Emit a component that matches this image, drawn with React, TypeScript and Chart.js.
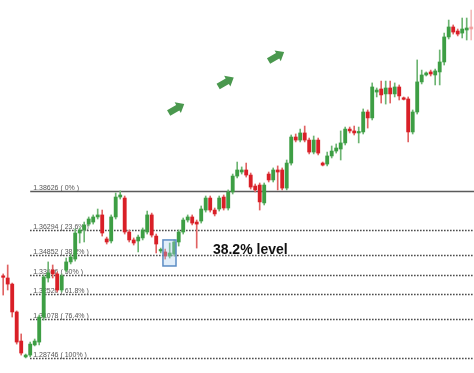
import React, { useEffect, useRef } from "react";
import { Chart, registerables } from "chart.js";

Chart.register(...registerables);

const opens = [
  1.3354, 1.3348, 1.3312, 1.3147, 1.2975, 1.2881, 1.2892, 1.2952, 1.2969, 1.3117,
  1.3348, 1.3395, 1.3372, 1.3277, 1.3395, 1.3443, 1.346, 1.3614, 1.3632, 1.3667,
  1.3679, 1.3709, 1.3721, 1.3579, 1.3567, 1.3709, 1.3827, 1.3821, 1.362, 1.3573,
  1.3567, 1.3585, 1.362, 1.3721, 1.3596, 1.3508, 1.3502, 1.3478, 1.349, 1.3561,
  1.362, 1.3691, 1.3709, 1.3679, 1.3685, 1.375, 1.3821, 1.375, 1.3756, 1.3827,
  1.3762, 1.3857, 1.3951, 1.3975, 1.3987, 1.3957, 1.3892, 1.3898, 1.3792, 1.3963,
  1.3928, 1.3987, 1.3987, 1.388, 1.4028, 1.4182, 1.4164, 1.4206, 1.4164, 1.4093,
  1.4164, 1.4028, 1.4022, 1.407, 1.4099, 1.4111, 1.4147, 1.4229, 1.4218, 1.4206,
  1.4212, 1.433, 1.4295, 1.4448, 1.4466, 1.4437, 1.4472, 1.4437, 1.4478, 1.4407,
  1.4407, 1.4212, 1.433, 1.4508, 1.4549, 1.4567, 1.4549, 1.4567, 1.4626, 1.4774,
  1.4833, 1.4809, 1.4797, 1.4815, 1.4833,
];
const highs = [
  1.3372, 1.3425, 1.3318, 1.3153, 1.3017, 1.2898, 1.2969, 1.2987, 1.3129, 1.3366,
  1.3443, 1.3425, 1.3383, 1.3372, 1.3466, 1.349, 1.3638, 1.3644, 1.3679, 1.3709,
  1.3721, 1.3756, 1.375, 1.359, 1.3721, 1.3851, 1.3863, 1.3833, 1.3632, 1.3585,
  1.3602, 1.3644, 1.3744, 1.3732, 1.3608, 1.3525, 1.3519, 1.3555, 1.3573, 1.3632,
  1.3703, 1.3721, 1.3721, 1.3691, 1.3774, 1.3833, 1.3833, 1.3762, 1.3833, 1.3839,
  1.3869, 1.3963, 1.4034, 1.4005, 1.4028, 1.3969, 1.3904, 1.391, 1.391, 1.3975,
  1.3999, 1.4011, 1.3999, 1.4046, 1.4194, 1.42, 1.4229, 1.4247, 1.4176, 1.4188,
  1.4176, 1.4034, 1.4093, 1.4129, 1.4141, 1.4218, 1.4241, 1.4241, 1.4247, 1.4241,
  1.4348, 1.4342, 1.4502, 1.4472, 1.4513, 1.4513, 1.4513, 1.4502, 1.449, 1.4419,
  1.4419, 1.4342, 1.4638, 1.4578, 1.4567, 1.4578, 1.4584, 1.4697, 1.4797, 1.4874,
  1.4845, 1.4821, 1.4886, 1.4886, 1.4933,
];
const lows = [
  1.3247, 1.3277, 1.3117, 1.2957, 1.2892, 1.2875, 1.2881, 1.2946, 1.2952, 1.3099,
  1.3324, 1.3348, 1.3265, 1.3265, 1.3383, 1.3431, 1.3448, 1.3555, 1.3561, 1.3656,
  1.3667, 1.3697, 1.3596, 1.3549, 1.3555, 1.3697, 1.3815, 1.3608, 1.3561, 1.3543,
  1.3502, 1.3573, 1.3608, 1.359, 1.3496, 1.3496, 1.346, 1.3466, 1.3478, 1.3537,
  1.3608, 1.3679, 1.3662, 1.3525, 1.3673, 1.3738, 1.3738, 1.3715, 1.3744, 1.375,
  1.375, 1.3845, 1.394, 1.3963, 1.3945, 1.3874, 1.3857, 1.375, 1.378, 1.3916,
  1.3916, 1.3869, 1.3869, 1.3869, 1.4016, 1.4153, 1.4153, 1.4153, 1.4082, 1.4082,
  1.4076, 1.4011, 1.4011, 1.4058, 1.4087, 1.4046, 1.4135, 1.4206, 1.4194, 1.4147,
  1.42, 1.4235, 1.4283, 1.4419, 1.4383, 1.4377, 1.4383, 1.4419, 1.4401, 1.4401,
  1.4153, 1.42, 1.4318, 1.4496, 1.4543, 1.4543, 1.449, 1.449, 1.4608, 1.4762,
  1.4791, 1.478, 1.4768, 1.4756, 1.4756,
];
const closes = [
  1.3352, 1.3312, 1.3147, 1.2969, 1.2904, 1.2892, 1.2957, 1.2975, 1.3117, 1.3354,
  1.3378, 1.3372, 1.3277, 1.336, 1.3443, 1.3472, 1.3614, 1.3632, 1.3662, 1.3697,
  1.3709, 1.3721, 1.3614, 1.3561, 1.3709, 1.3827, 1.3839, 1.362, 1.3573, 1.3555,
  1.359, 1.3632, 1.3721, 1.3602, 1.3549, 1.3514, 1.3478, 1.3496, 1.3561, 1.362,
  1.3691, 1.3709, 1.3673, 1.3667, 1.3756, 1.3821, 1.375, 1.3727, 1.3821, 1.3762,
  1.3857, 1.3951, 1.3987, 1.3987, 1.3957, 1.3886, 1.3869, 1.3798, 1.3898, 1.3928,
  1.3987, 1.3975, 1.388, 1.4028, 1.4182, 1.4164, 1.4206, 1.4164, 1.4093, 1.4164,
  1.4087, 1.4016, 1.407, 1.4099, 1.4117, 1.4147, 1.4229, 1.4218, 1.4206, 1.4212,
  1.433, 1.4295, 1.4478, 1.446, 1.4431, 1.4472, 1.4437, 1.4478, 1.4425, 1.4405,
  1.4212, 1.433, 1.4508, 1.4549, 1.4561, 1.4555, 1.4573, 1.4626, 1.4774, 1.4833,
  1.4803, 1.4791, 1.4821, 1.4827, 1.4821,
];

// Fibonacci retracement levels
const fibLevels = [1.38626, 1.36294, 1.34852, 1.33686, 1.3252, 1.31078, 1.28746];
const fibPercents = ["0%", "23.6%", "38.2%", "50%", "61.8%", "76.4%", "100%"];
const fibStartIndex = 6;

// Annotations (data units: candle index, price)
const arrowX = [38.5, 49.5, 60.7];
const arrowY = [1.4351, 1.4508, 1.4658];
const boxX = [35.5, 38.4];
const boxY = [1.3419, 1.3573];
const noteText = "38.2% level";
const noteX = 46.6;
const noteY = 1.3492;

const GREEN = "#3d9e44";
const RED = "#d91f27";
const GREEN_WICK = "#6cb471";
const RED_WICK = "#e06262";

export default function App() {
  const ref = useRef<HTMLCanvasElement | null>(null);

  useEffect(() => {
    if (!ref.current) return;
    const n = opens.length;
    const last = n - 1;
    const isUp = (i: number) => closes[i] >= opens[i];
    const bodyColors = opens.map((_, i) =>
      i === last ? "rgba(240,150,150,0.8)" : isUp(i) ? GREEN : RED
    );
    const wickColors = opens.map((_, i) =>
      i === last ? "rgba(240,170,170,0.8)" : isUp(i) ? GREEN_WICK : RED_WICK
    );

    const overlay = {
      id: "overlay",
      beforeDatasetsDraw(chart: any) {
        const { ctx, scales } = chart;
        const xs = scales.x;
        const ys = scales.y;
        const x0 = xs.getPixelForValue(fibStartIndex);
        const x1 = chart.chartArea.right;
        ctx.save();
        fibLevels.forEach((lv, k) => {
          const y = Math.round(ys.getPixelForValue(lv)) + 0.5;
          ctx.beginPath();
          if (k === 0) {
            ctx.setLineDash([]);
            ctx.strokeStyle = "#5a5a5a";
            ctx.lineWidth = 1.3;
          } else {
            ctx.setLineDash([1.3, 1.7]);
            ctx.strokeStyle = "#222";
            ctx.lineWidth = 1.4;
          }
          ctx.moveTo(x0, y);
          ctx.lineTo(x1, y);
          ctx.stroke();
          ctx.setLineDash([]);
          ctx.fillStyle = "#555";
          ctx.font = "7px 'Liberation Sans', Arial, sans-serif";
          ctx.textBaseline = "alphabetic";
          ctx.textAlign = "left";
          ctx.fillText(`${lv.toFixed(5)} ( ${fibPercents[k]} )`, x0 + 3, y - 2);
        });
        ctx.restore();
      },
      afterDatasetsDraw(chart: any) {
        const { ctx, scales } = chart;
        const xs = scales.x;
        const ys = scales.y;
        ctx.save();
        // highlight box
        const bx0 = xs.getPixelForValue(boxX[0]);
        const bx1 = xs.getPixelForValue(boxX[1]);
        const by0 = ys.getPixelForValue(boxY[1]);
        const by1 = ys.getPixelForValue(boxY[0]);
        ctx.fillStyle = "rgba(170,205,240,0.35)";
        ctx.fillRect(bx0, by0, bx1 - bx0, by1 - by0);
        ctx.strokeStyle = "#5b8cc4";
        ctx.lineWidth = 1.5;
        ctx.strokeRect(bx0, by0, bx1 - bx0, by1 - by0);
        // note text
        ctx.fillStyle = "#111";
        ctx.font = "bold 14px 'Liberation Sans', Arial, sans-serif";
        ctx.textAlign = "left";
        ctx.textBaseline = "alphabetic";
        ctx.fillText(noteText, xs.getPixelForValue(noteX), ys.getPixelForValue(noteY));
        // arrows
        arrowX.forEach((ax, k) => {
          const cx = xs.getPixelForValue(ax);
          const cy = ys.getPixelForValue(arrowY[k]);
          ctx.save();
          ctx.translate(cx, cy);
          ctx.rotate((-30 * Math.PI) / 180);
          ctx.fillStyle = "#4a984e";
          ctx.beginPath();
          ctx.moveTo(-9, -3.2);
          ctx.lineTo(1.5, -3.2);
          ctx.lineTo(1.5, -6.2);
          ctx.lineTo(9, 0);
          ctx.lineTo(1.5, 6.2);
          ctx.lineTo(1.5, 3.2);
          ctx.lineTo(-9, 3.2);
          ctx.closePath();
          ctx.fill();
          ctx.restore();
        });
        ctx.restore();
      },
    };

    const chart = new Chart(ref.current, {
      type: "bar",
      data: {
        datasets: [
          {
            label: "body",
            data: opens.map((o, i) => ({
              x: i,
              y: [Math.min(o, closes[i]), Math.max(o, closes[i])],
            })) as any,
            backgroundColor: bodyColors,
            barThickness: 3.2,
            minBarLength: 1.5,
            grouped: false,
            borderWidth: 0,
          } as any,
          {
            label: "wick",
            data: opens.map((_, i) => ({ x: i, y: [lows[i], highs[i]] })) as any,
            backgroundColor: wickColors,
            barThickness: 1,
            grouped: false,
            borderWidth: 0,
          } as any,
        ],
      },
      options: {
        responsive: false,
        animation: false,
        layout: { padding: 0 },
        plugins: { legend: { display: false }, tooltip: { enabled: false } },
        scales: {
          x: { type: "linear", display: false, min: -0.711, max: 104.622, offset: false } as any,
          y: { type: "linear", display: false, min: 1.27859, max: 1.49926 },
        },
      },
      plugins: [overlay],
    });
    return () => chart.destroy();
  }, []);

  return (
    <div style={{ position: "fixed", left: 0, top: 0, width: 474, height: 373, background: "#fff" }}>
      <canvas ref={ref} width={474} height={373} style={{ display: "block" }} />
    </div>
  );
}
